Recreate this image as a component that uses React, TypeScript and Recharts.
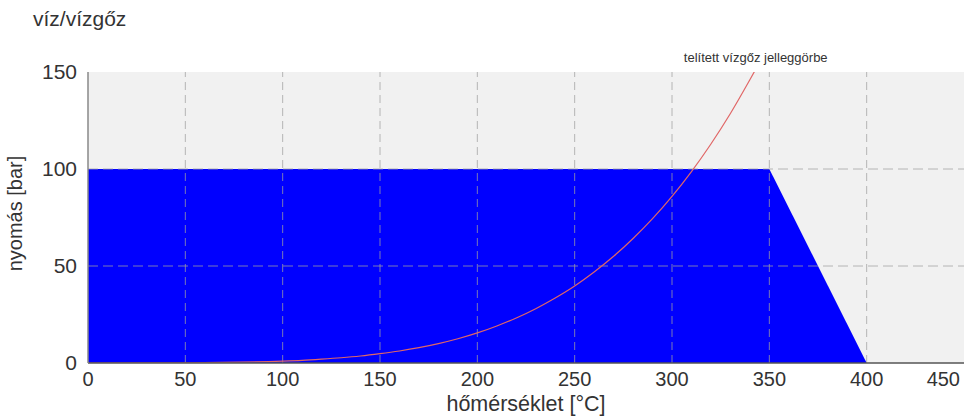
import React from "react";
import {
  ComposedChart,
  Area,
  Line,
  XAxis,
  YAxis,
  CartesianGrid,
  ReferenceLine,
  ReferenceDot,
} from "recharts";

// water/steam operating envelope
const envelopeTemps = [0, 350, 400];
const envelopePressure = [100, 100, 0];

// saturated steam curve (°C -> bar)
const curveTemps = [0, 50, 100, 110, 120, 130, 140, 150, 160, 170, 180, 190, 200, 210, 220, 230, 240, 250, 260, 270, 280, 290, 300, 310, 320, 330, 340, 345];
const curvePressure = [0.01, 0.12, 1.0, 1.4, 2.0, 2.7, 3.6, 4.8, 6.2, 7.9, 10.0, 12.5, 15.5, 19.1, 23.2, 28.0, 33.5, 39.7, 46.9, 55.0, 64.2, 74.4, 85.9, 98.7, 112.9, 128.6, 146.0, 155.0];

const xTicks = [0, 50, 100, 150, 200, 250, 300, 350, 400, 450];
const yTicks = [0, 50, 100, 150];

const envelopeData = envelopeTemps.map((t, i) => ({ t, p: envelopePressure[i] }));
const curveData = curveTemps.map((t, i) => ({ t, p: curvePressure[i] }));

const font = "'Liberation Sans', Arial, sans-serif";
const textColor = "#333333";
const gridStroke = "rgba(160,160,160,0.75)";

// last tick label is pulled inside the chart edge
const XTick = (props: any) => {
  const { x, y, payload, index } = props;
  const last = index === xTicks.length - 1;
  return (
    <text
      x={last ? x + 2 : x}
      y={y + 1}
      dy="0.71em"
      textAnchor={last ? "end" : "middle"}
      fontSize={20}
      fill={textColor}
    >
      {payload.value}
    </text>
  );
};

export default function App() {
  return (
    <div style={{ position: "absolute", left: 0, top: 0, width: 970, height: 418, background: "#fff", fontFamily: font }}>
      <div style={{ position: "absolute", left: 33, top: 7, fontSize: 21, color: textColor }}>víz/vízgőz</div>
      <ComposedChart
        width={970}
        height={418}
        margin={{ top: 72, right: 6, bottom: 25, left: 0 }}
        style={{ fontFamily: font }}
      >
        <CartesianGrid fill="#f1f1f1" horizontal={false} vertical={false} stroke="none" />
        <XAxis
          type="number"
          dataKey="t"
          domain={[0, 450]}
          ticks={xTicks}
          tickLine={false}
          axisLine={{ stroke: "#555", strokeWidth: 1.5 }}
          tick={<XTick />}
          height={30}
          allowDataOverflow
          label={{ value: "hőmérséklet [°C]", position: "bottom", offset: 3, fontSize: 21.5, fill: textColor }}
        />
        <YAxis
          type="number"
          dataKey="p"
          domain={[0, 150]}
          ticks={yTicks}
          tickLine={false}
          axisLine={{ stroke: "#888", strokeWidth: 1.5 }}
          tick={{ fontSize: 21, fill: textColor, dx: -3 }}
          width={88}
          allowDataOverflow
          label={{
            content: (props: any) => {
              const vb = props.viewBox;
              const cx = 15;
              const cy = vb.y + vb.height / 2 - 4;
              return (
                <text
                  x={cx}
                  y={cy}
                  transform={`rotate(-90 ${cx} ${cy})`}
                  textAnchor="middle"
                  dominantBaseline="central"
                  fontSize={20}
                  fill={textColor}
                >
                  nyomás [bar]
                </text>
              );
            },
          }}
        />
        <Area
          data={envelopeData}
          dataKey="p"
          type="linear"
          fill="#0000ff"
          fillOpacity={1}
          stroke="none"
          isAnimationActive={false}
          dot={false}
          activeDot={false}
        />
        {xTicks.slice(1, -1).map((t) => (
          <ReferenceLine key={"vx" + t} x={t} stroke={gridStroke} strokeDasharray="8 5" />
        ))}
        {yTicks.slice(1, -1).map((p) => (
          <ReferenceLine key={"hy" + p} y={p} stroke={gridStroke} strokeDasharray="10 5" />
        ))}
        <Line
          data={curveData}
          dataKey="p"
          type="monotone"
          stroke="#e06666"
          strokeWidth={1.2}
          dot={false}
          activeDot={false}
          isAnimationActive={false}
        />
        <ReferenceDot
          x={343}
          y={150}
          r={0}
          stroke="none"
          fill="none"
          label={{ value: "telített vízgőz jelleggörbe", position: "top", offset: 10, fontSize: 13, fill: textColor }}
        />
      </ComposedChart>
    </div>
  );
}
